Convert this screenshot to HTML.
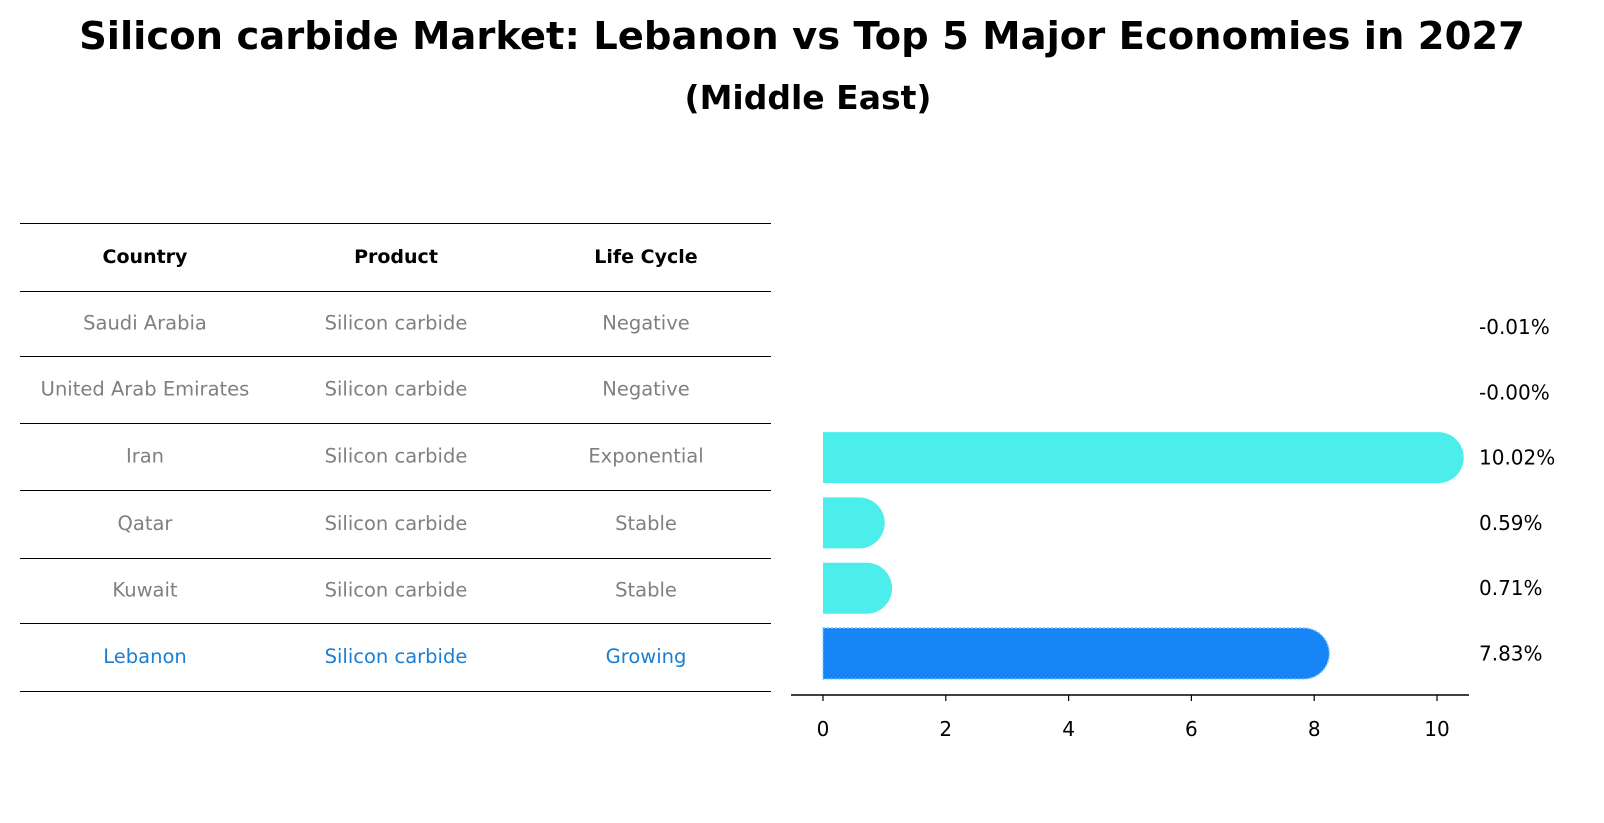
<!DOCTYPE html>
<html><head><meta charset="utf-8"><style>
body{margin:0;background:#fff;font-family:"Liberation Sans","DejaVu Sans",sans-serif;}
#wrap{position:relative;width:1604px;height:823px;overflow:hidden;}
.t{position:absolute;white-space:nowrap;}
</style></head><body>
<div id="wrap">
<div class="t" style="left:0;width:1604px;text-align:center;top:14px;font-size:38.5px;font-weight:bold;font-family:'DejaVu Sans',sans-serif;">Silicon carbide Market: Lebanon vs Top 5 Major Economies in 2027</div>
<div class="t" style="left:0;width:1616px;text-align:center;top:78px;font-size:33px;font-weight:bold;font-family:'DejaVu Sans',sans-serif;">(Middle East)</div>
<svg id="svg" width="1604" height="823" style="position:absolute;left:0;top:0"></svg>
</div>
<script>
const countries=["Saudi Arabia","United Arab Emirates","Iran","Qatar","Kuwait","Lebanon"];
const products=["Silicon carbide","Silicon carbide","Silicon carbide","Silicon carbide","Silicon carbide","Silicon carbide"];
const lifeCycles=["Negative","Negative","Exponential","Stable","Stable","Growing"];
const values=[-0.01,-0.00,10.02,0.59,0.71,7.83];
const valueLabels=["-0.01%","-0.00%","10.02%","0.59%","0.71%","7.83%"];
const ticks=[0,2,4,6,8,10];
const NS="http://www.w3.org/2000/svg";
const svg=document.getElementById('svg');
function mk(tag,attrs,parent){const e=document.createElementNS(NS,tag);for(const k in attrs)e.setAttribute(k,attrs[k]);(parent||svg).appendChild(e);return e;}
const x=v=>823+v*61.4;
const rowY=i=>327+i*65.3;
const font="DejaVu Sans, Liberation Sans, sans-serif";
const lines=[223,291,356,423,490,558,623,691];
lines.forEach((ly,i)=>{const l=mk('line',{x1:20,x2:771,y1:ly+0.5,y2:ly+0.5,stroke:'#000','stroke-width':1});

});
const colX=[145,396,646];
["Country","Product","Life Cycle"].forEach((h,j)=>{const t=mk('text',{x:colX[j],y:263,'text-anchor':'middle','font-size':19,'font-weight':'bold','font-family':font});t.textContent=h;

});
countries.forEach((c,i)=>{const cy=(lines[i+1]+lines[i+2])/2+6;const col=c==="Lebanon"?"#1a7fd4":"#808080";
[c,products[i],lifeCycles[i]].forEach((v,j)=>{const t=mk('text',{x:colX[j],y:cy,'text-anchor':'middle','font-size':19.5,fill:col,'font-family':font});t.textContent=v;

});});
const h=51,r=25.5;
values.forEach((v,i)=>{const cy=rowY(i);const leb=countries[i]==="Lebanon";const col=leb?"#1785f5":"#4beeea";
if(v>0.005){const x0=x(0),x1=x(v);
const p=mk('path',{d:`M${x0},${cy-h/2} H${x1} A${r},${r} 0 0 1 ${x1},${cy+h/2} H${x0} Z`,fill:col,stroke:leb?'#6fc6ff':'none','stroke-width':leb?1.5:0,'stroke-dasharray':leb?'2,2':''});

}
const t=mk('text',{x:1479,y:cy+7,'font-size':20,'font-family':font});t.textContent=valueLabels[i];

});
const ax=mk('line',{x1:791,x2:1469,y1:695,y2:695,stroke:'#000','stroke-width':1.5});


ticks.forEach(tv=>{const tk=mk('line',{x1:x(tv),x2:x(tv),y1:695,y2:701,stroke:'#000','stroke-width':1.2});


const t=mk('text',{x:x(tv),y:736,'text-anchor':'middle','font-size':20,'font-family':font});t.textContent=tv;

});
</script>
</body></html>
